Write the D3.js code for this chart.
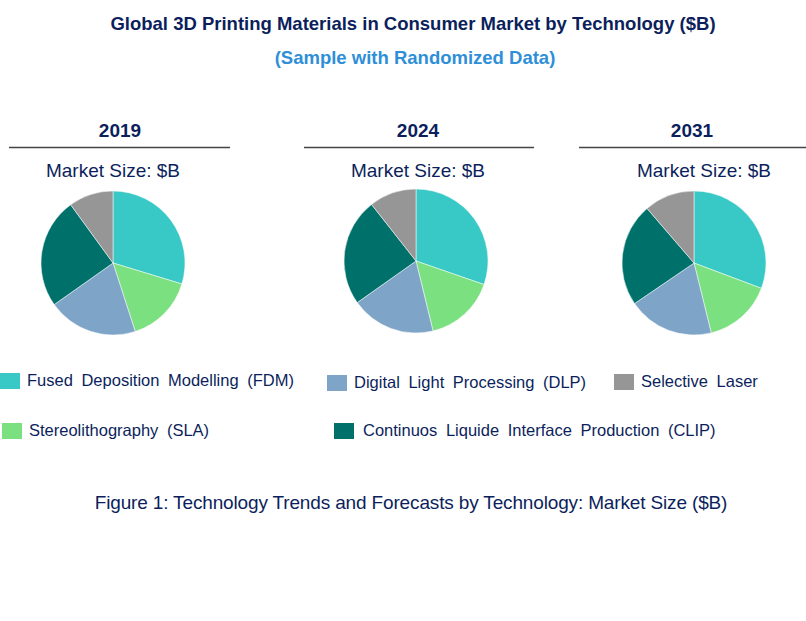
<!DOCTYPE html>
<html>
<head>
<meta charset="utf-8">
<script src="https://cdn.jsdelivr.net/npm/d3@7"></script>
<style>
  body { margin: 0; background: #fff; }
  text { font-family: "Liberation Sans", Arial, sans-serif; }
</style>
</head>
<body>
<svg id="chart" width="806" height="621"></svg>
<script>
const technologies = [
  "Fused Deposition Modelling (FDM)",
  "Stereolithography (SLA)",
  "Digital Light Processing (DLP)",
  "Continuos Liquide Interface Production (CLIP)",
  "Selective Laser",
];
const techColors = ["#38c8c6", "#7ae080", "#7ea4c8", "#00716a", "#969696"];
const years = ["2019", "2024", "2031"];

// market size share per technology, same order as technologies
const values2019 = [29.7, 15.3, 20.2, 24.8, 10.0];
const values2024 = [30.3, 15.9, 19.0, 24.2, 10.6];
const values2031 = [30.7, 15.4, 19.3, 23.2, 11.3];
const yearValues = [values2019, values2024, values2031];

const NAVY = "#0c1f5c";

const svg = d3.select("#chart");

svg.append("text")
  .attr("x", 413).attr("y", 30)
  .attr("text-anchor", "middle")
  .attr("font-size", 18.5).attr("font-weight", "bold")
  .attr("fill", NAVY)
  .text("Global 3D Printing Materials in Consumer Market by Technology ($B)");

svg.append("text")
  .attr("x", 415).attr("y", 64)
  .attr("text-anchor", "middle")
  .attr("font-size", 18.5).attr("font-weight", "bold")
  .attr("fill", "#2e8fd8")
  .text("(Sample with Randomized Data)");

// panel layout
const panels = [
  { cx: 113, cy: 263, lx1: 9, lx2: 230, yearX: 120, subX: 113 },
  { cx: 416, cy: 261, lx1: 304, lx2: 534, yearX: 418, subX: 418 },
  { cx: 694, cy: 263, lx1: 579, lx2: 806, yearX: 692, subX: 704 },
];
const radius = 72;

const pie = d3.pie().sort(null).value((d) => d);
const arc = d3.arc().innerRadius(0).outerRadius(radius);

panels.forEach((p, i) => {
  const g = svg.append("g");

  g.append("text")
    .attr("x", p.yearX).attr("y", 137)
    .attr("text-anchor", "middle")
    .attr("font-size", 19).attr("font-weight", "bold")
    .attr("fill", NAVY)
    .text(years[i]);

  g.append("line")
    .attr("x1", p.lx1).attr("x2", p.lx2)
    .attr("y1", 147.5).attr("y2", 147.5)
    .attr("stroke", "#444").attr("stroke-width", 1.3);

  g.append("text")
    .attr("x", p.subX).attr("y", 177)
    .attr("text-anchor", "middle")
    .attr("font-size", 19)
    .attr("fill", NAVY)
    .text("Market Size: $B");

  g.append("g")
    .attr("transform", `translate(${p.cx},${p.cy})`)
    .selectAll("path")
    .data(pie(yearValues[i]))
    .join("path")
    .attr("d", arc)
    .attr("fill", (d, j) => techColors[j])
    .attr("stroke", "#fff")
    .attr("stroke-width", 0.5);
});

// legend
const legendPos = [
  { x: 0, y: 373 },
  { x: 2, y: 423 },
  { x: 327, y: 375 },
  { x: 334, y: 423 },
  { x: 614, y: 374 },
];

const legend = svg.append("g")
  .selectAll("g")
  .data(technologies)
  .join("g")
  .attr("transform", (d, i) => `translate(${legendPos[i].x},${legendPos[i].y})`);

legend.append("rect")
  .attr("width", 20).attr("height", 16)
  .attr("fill", (d, i) => techColors[i]);

legend.append("text")
  .attr("x", (d, i) => (i === 3 ? 29 : 27))
  .attr("y", 13)
  .attr("font-size", 16.5)
  .attr("word-spacing", 4)
  .attr("fill", NAVY)
  .text((d) => d);

svg.append("text")
  .attr("x", 411).attr("y", 509)
  .attr("text-anchor", "middle")
  .attr("font-size", 19)
  .attr("fill", NAVY)
  .attr("letter-spacing", -0.15)
  .text("Figure 1: Technology Trends and Forecasts by Technology: Market Size ($B)");
</script>
</body>
</html>
